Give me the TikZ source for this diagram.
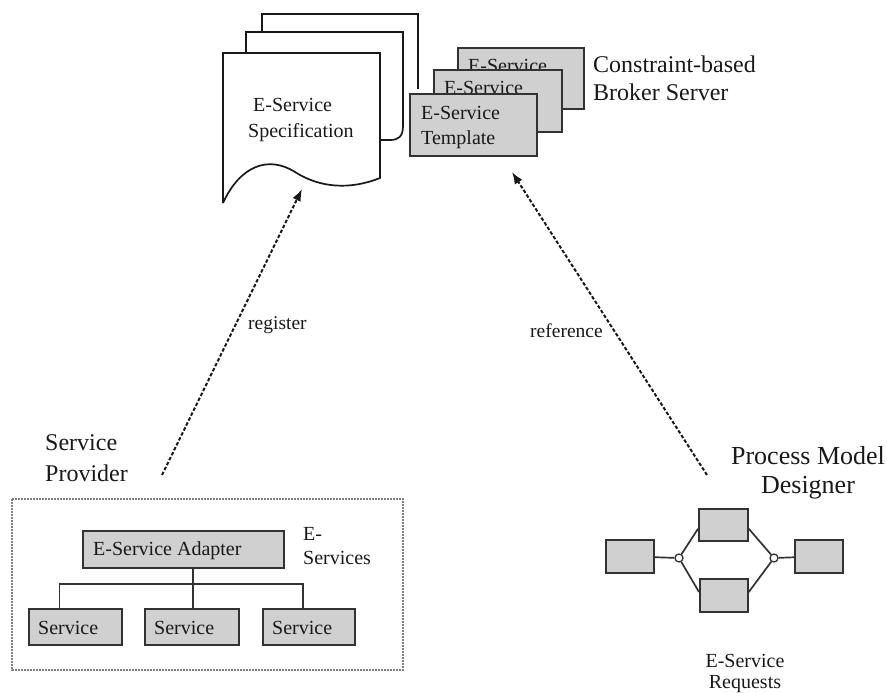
\documentclass[tikz,border=0pt]{standalone}
\usepackage{fontspec}
\setmainfont{Liberation Serif}
\usetikzlibrary{arrows.meta,calc}
\definecolor{boxfill}{RGB}{208,208,208}
\definecolor{boxline}{RGB}{50,50,50}
\definecolor{ink}{RGB}{25,25,25}
\begin{document}
\begin{tikzpicture}[x=1pt,y=-1pt,
  every node/.style={inner sep=0pt, text=ink},
  txt/.style={anchor=base west},
  ctxt/.style={anchor=base},
  f20/.style={font=\fontsize{20}{24}\selectfont},
  f24/.style={font=\fontsize{24}{28}\selectfont},
  f26/.style={font=\fontsize{26}{30}\selectfont},
  f19/.style={font=\fontsize{19.5}{23}\selectfont},
  graybox/.style={draw=boxline, fill=boxfill, line width=1.8pt, anchor=north west},
  doc/.style={draw=ink, line width=1.7pt, line join=miter},
  wire/.style={draw=boxline, line width=1.7pt},
  flow/.style={draw=ink, line width=2pt, dash pattern=on 3.5pt off 2pt,
               -{Latex[length=12pt,width=9pt]}}]
\useasboundingbox (0,0) rectangle (887,693);

% ---- stacked specification documents ----
\draw[doc] (262,32) -- (262,14) -- (418,14) -- (418,89);
\draw[doc] (246,53) -- (246,32) -- (403,32) -- (403,126)
  .. controls (403,137) and (398,140) .. (390,140) -- (380,140);
\draw[doc, fill=white] (223,203) -- (223,53) -- (380,53) -- (380,178)
  .. controls (350,190) and (320,188) .. (295,172)
  .. controls (268,155) and (240,166) .. (223,203);
\node[txt, f20] (spec1) at (253,112) {E-Service};
\node[txt, f20] (spec2) at (248,137) {Specification};
\coordinate (specin) at (302,189);

% ---- stacked template boxes ----
\node[graybox, minimum width=126pt, minimum height=61pt] (tmpl3) at (457,47) {};
\node[txt, f20] (tmpl3t) at (468,73) {E-Service};
\node[graybox, minimum width=128pt, minimum height=62pt] (tmpl2) at (433,69) {};
\node[txt, f20] (tmpl2t) at (444,95) {E-Service};
\node[graybox, minimum width=127pt, minimum height=62pt] (tmpl1) at (409,93) {};
\node[txt, f20] (tmpl1a) at (421,119) {E-Service};
\node[txt, f20] (tmpl1b) at (421,144) {Template};
\coordinate (tmplin) at (512,172);

\node[txt, f24] (broker1) at (593,73) {Constraint-based};
\node[txt, f24] (broker2) at (593,100) {Broker Server};

% ---- service provider ----
\node[txt, f24] (prov1) at (45,450) {Service};
\node[txt, f24] (prov2) at (45,481) {Provider};
\coordinate (provout) at (162,475);

\draw[gray, line width=1.1pt, dash pattern=on 2pt off 1pt] (12,499) rectangle (403,670);

\node[graybox, minimum width=201pt, minimum height=37pt] (adapter) at (82,530) {};
\node[txt, f20] (adaptert) at (93,555) {E-Service Adapter};
\node[graybox, minimum width=93pt, minimum height=36pt] (s1) at (28,608) {};
\node[graybox, minimum width=94pt, minimum height=36pt] (s2) at (144,608) {};
\node[graybox, minimum width=92pt, minimum height=36pt] (s3) at (262,608) {};
\node[txt, f20] (s1t) at (38,634) {Service};
\node[txt, f20] (s2t) at (154,634) {Service};
\node[txt, f20] (s3t) at (272,634) {Service};
\node[txt, f20] (es1) at (303,540) {E-};
\node[txt, f20] (es2) at (303,564) {Services};

\coordinate (bus) at (0,584);
\draw[wire] ([xshift=-16pt]s1.north) -- ([xshift=-16pt]s1.north |- bus)
  -- ([xshift=-6pt]s3.north |- bus) -- ([xshift=-6pt]s3.north);
\draw[wire] ([xshift=1pt]s2.north) -- ([xshift=1pt]s2.north |- adapter.south);

% ---- process model designer ----
\node[ctxt, f26] (pmd1) at (808,464) {Process Model};
\node[ctxt, f26] (pmd2) at (808,493) {Designer};
\coordinate (pmdout) at (707,475);

\node[graybox, minimum width=48pt, minimum height=33pt] (pl) at (605,539) {};
\node[graybox, minimum width=49pt, minimum height=32pt] (pt) at (698,508) {};
\node[graybox, minimum width=48pt, minimum height=33pt] (pb) at (699,578) {};
\node[graybox, minimum width=48pt, minimum height=33pt] (pr) at (794,539) {};
\node[circle, draw=boxline, fill=white, line width=1.3pt, minimum size=8pt] (jl) at (679,558) {};
\node[circle, draw=boxline, fill=white, line width=1.3pt, minimum size=8pt] (jr) at (774,558) {};
\draw[wire] (pl) -- (jl);
\draw[wire] (jl) -- ([yshift=13pt]pt.south west);
\draw[wire] (jl) -- ([yshift=-14pt]pb.north west);
\draw[wire] ([yshift=13pt]pt.south east) -- (jr);
\draw[wire] ([yshift=-14pt]pb.north east) -- (jr);
\draw[wire] (jr) -- (pr);

\node[ctxt, f20] (req1) at (745,667) {E-Service};
\node[ctxt, f20] (req2) at (745,688) {Requests};

% ---- connectors ----
\draw[flow] (provout) -- (specin);
\draw[flow] (pmdout) -- (tmplin);
\node[txt, f19] (reglbl) at (248,329) {register};
\node[txt, f19] (reflbl) at (530,337) {reference};
\end{tikzpicture}
\end{document}
